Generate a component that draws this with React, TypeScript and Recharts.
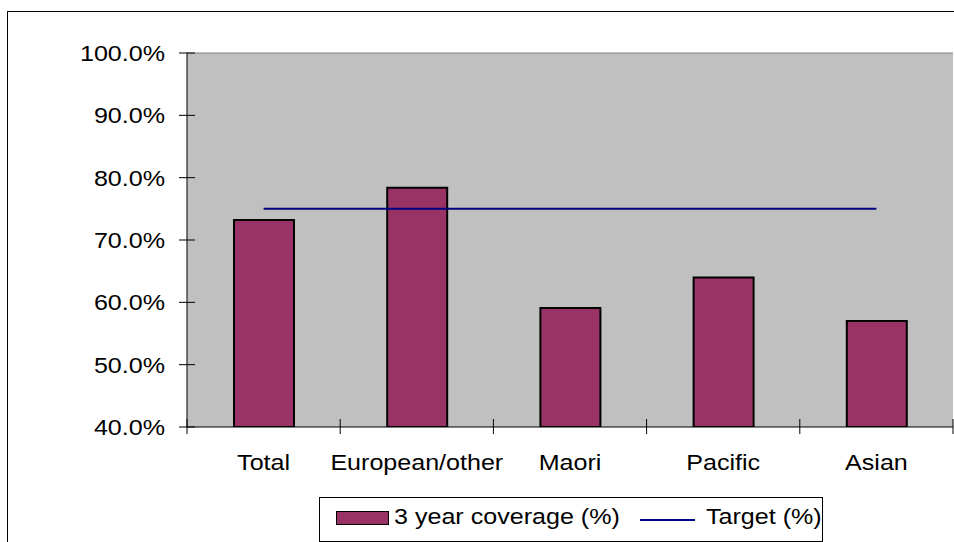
import React from 'react';
import { ComposedChart, Bar, Line, XAxis, YAxis, CartesianGrid, ReferenceLine } from 'recharts';

const categories = ['Total', 'European/other', 'Maori', 'Pacific', 'Asian'];
const coverage = [73.2, 78.4, 59.1, 64.0, 57.0];
const target = [75, 75, 75, 75, 75];
const yTicks = [40, 50, 60, 70, 80, 90, 100];
const seriesNames = ['3 year coverage (%)', 'Target (%)'];

const data = categories.map((name, i) => ({ name, coverage: coverage[i], target: target[i] }));

const FONT = '"Liberation Sans", Arial, sans-serif';
const STRETCH = 1.14;
const PLOT_W = 766;
const BAND = PLOT_W / categories.length;

const YTick: React.FC<any> = ({ x, y, payload }) => (
    <g>
        <line x1={x - 8} x2={x + 8} y1={y} y2={y} stroke="#000" />
        <g transform={`translate(${x - 22},${y}) scale(${STRETCH},1)`}>
            <text x={0} y={0} dy="0.36em" textAnchor="end" fontSize={22} fontFamily={FONT} fill="#000">
                {payload.value.toFixed(1) + '%'}
            </text>
        </g>
    </g>
);

const XTick: React.FC<any> = ({ x, y, payload, index }) => (
    <g>
        <line x1={x - BAND / 2} x2={x - BAND / 2} y1={y - 8} y2={y + 7} stroke="#000" />
        {index === categories.length - 1 && (
            <line x1={x + BAND / 2} x2={x + BAND / 2} y1={y - 8} y2={y + 7} stroke="#000" />
        )}
        <g transform={`translate(${x},${y + 43}) scale(${STRETCH},1)`}>
            <text x={0} y={0} textAnchor="middle" fontSize={22} fontFamily={FONT} fill="#000">
                {payload.value}
            </text>
        </g>
    </g>
);

const LegendBox: React.FC = () => (
    <div
        style={{
            position: 'absolute', left: 319, top: 497, width: 502, height: 43,
            border: '1px solid #000', background: '#fff', fontFamily: FONT, fontSize: 22,
        }}
    >
        <div style={{ position: 'absolute', left: 16, top: 13, width: 51, height: 12, background: '#993366', border: '1px solid #000' }} />
        <div style={{ position: 'absolute', left: 74, top: 7, lineHeight: '24px', transform: `scaleX(${STRETCH})`, transformOrigin: 'left', whiteSpace: 'nowrap' }}>
            {seriesNames[0]}
        </div>
        <div style={{ position: 'absolute', left: 320, top: 21, width: 55, height: 2, background: '#000080' }} />
        <div style={{ position: 'absolute', left: 386, top: 7, lineHeight: '24px', transform: `scaleX(${STRETCH})`, transformOrigin: 'left', whiteSpace: 'nowrap' }}>
            {seriesNames[1]}
        </div>
    </div>
);

export default function App() {
    return (
        <div style={{ position: 'absolute', left: 0, top: 0, width: 954, height: 542, overflow: 'hidden', background: '#fff' }}>
            <div style={{ position: 'absolute', left: 7, top: 11, width: 1000, height: 600, borderLeft: '1px solid #000', borderTop: '1px solid #000' }} />
            <div style={{ position: 'absolute', left: 0, top: 0 }}>
                <ComposedChart width={954} height={542} data={data} margin={{ top: 53, right: 1, bottom: 75, left: 87 }}>
                    <CartesianGrid fill="#C0C0C0" horizontal={false} vertical={false} />
                    <XAxis
                        dataKey="name"
                        height={40}
                        tickLine={false}
                        tickSize={0}
                        tickMargin={0}
                        axisLine={{ stroke: '#000' }}
                        tick={<XTick />}
                        interval={0}
                    />
                    <YAxis
                        width={100}
                        domain={[40, 100]}
                        ticks={yTicks}
                        tickLine={false}
                        tickSize={0}
                        tickMargin={0}
                        axisLine={{ stroke: '#000' }}
                        tick={<YTick />}
                        allowDataOverflow
                    />
                    <YAxis yAxisId="r" orientation="right" width={0} tick={false} tickLine={false} axisLine={{ stroke: '#808080' }} />
                    <ReferenceLine y={100} stroke="#808080" />
                    <Bar dataKey="coverage" fill="#993366" stroke="#000" strokeWidth={2} barSize={60} isAnimationActive={false} />
                    <Line dataKey="target" type="linear" stroke="#000080" strokeWidth={2} dot={false} activeDot={false} isAnimationActive={false} />
                </ComposedChart>
            </div>
            <LegendBox />
        </div>
    );
}
